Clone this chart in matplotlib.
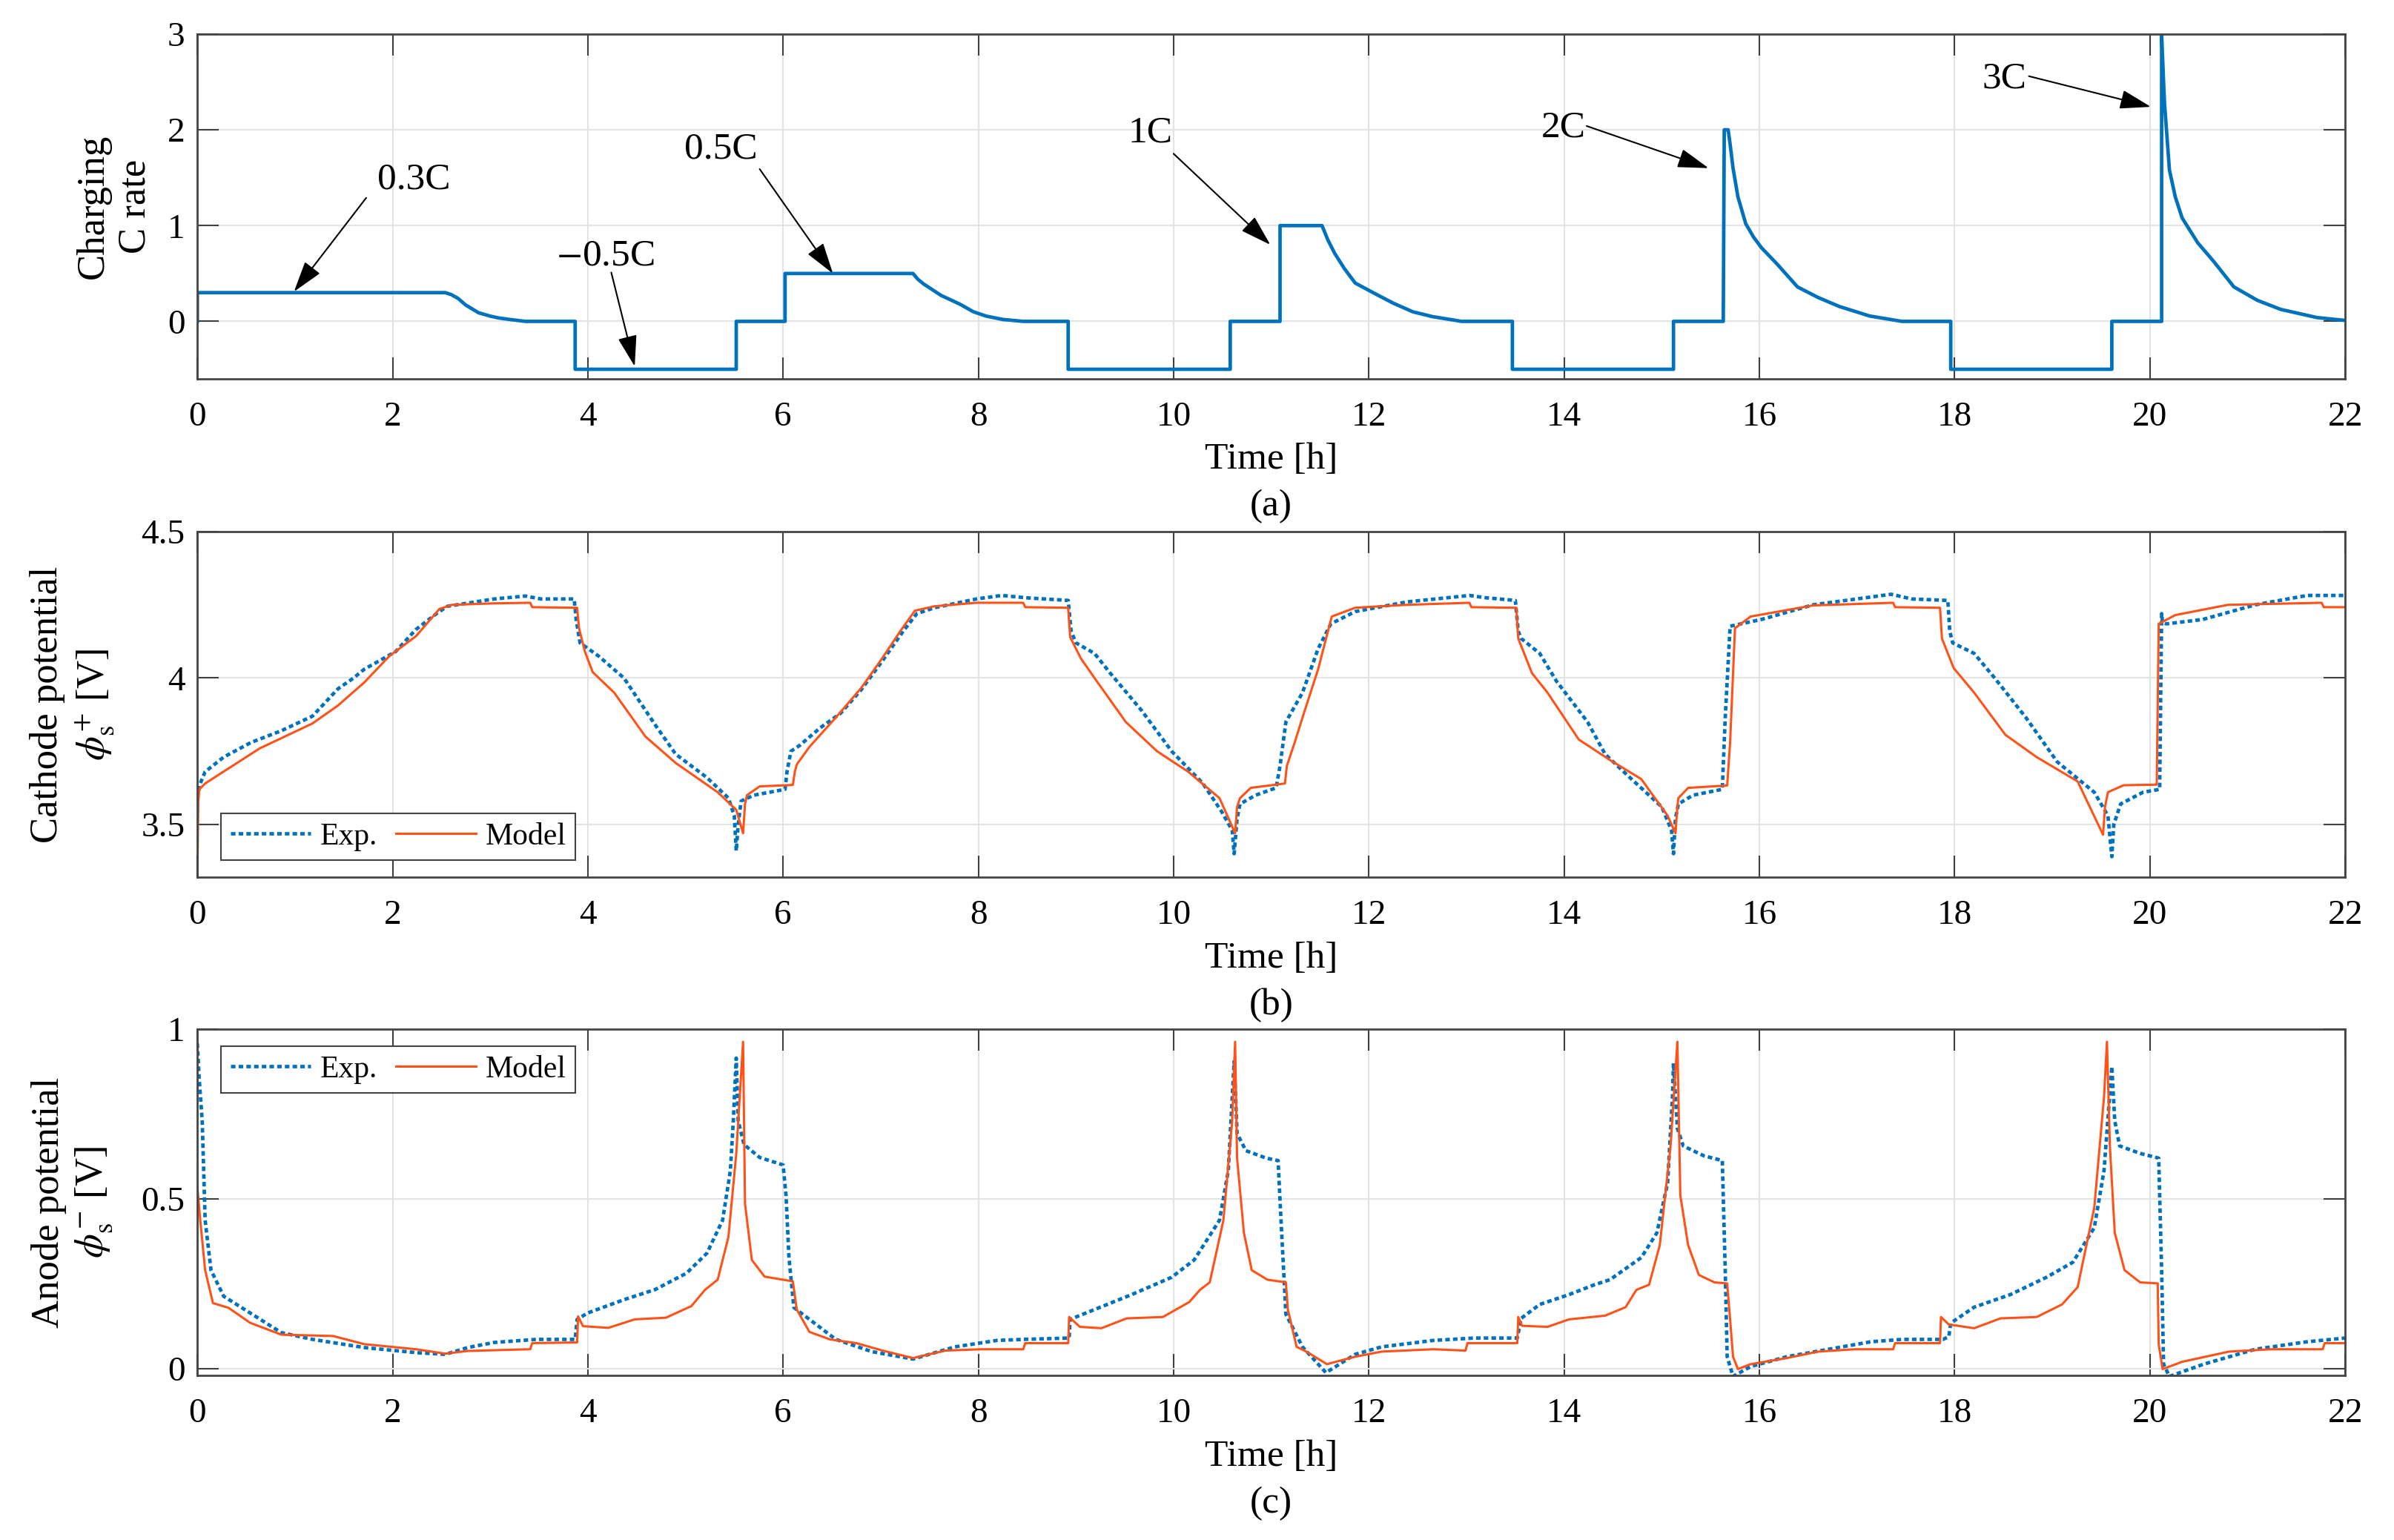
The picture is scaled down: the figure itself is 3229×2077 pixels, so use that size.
import matplotlib
matplotlib.use('Agg')
import matplotlib.pyplot as plt
from matplotlib.ticker import FuncFormatter

plt.rcParams['font.family'] = ['Liberation Serif', 'DejaVu Serif']
plt.rcParams['mathtext.fontset'] = 'stix'

# ---- (a) charging C rate ----
crate_t = [0, 0, 2.54, 2.60, 2.67, 2.75, 2.88, 3.0, 3.09, 3.2, 3.36, 3.87, 3.87, 5.52, 5.52, 6.02, 6.02,
           7.33, 7.38, 7.44, 7.62, 7.81, 7.95, 8.08, 8.25, 8.46, 8.92, 8.92, 10.58, 10.58, 11.09, 11.09,
           11.52, 11.58, 11.65, 11.75, 11.86, 12.08, 12.25, 12.45, 12.65, 12.95, 13.47, 13.47, 15.12,
           15.12, 15.63, 15.64, 15.68, 15.70, 15.73, 15.78, 15.86, 15.94, 16.02, 16.18, 16.39, 16.6,
           16.82, 17.13, 17.46, 17.96, 17.96, 19.61, 19.61, 20.12, 20.12, 20.14, 20.15, 20.2, 20.26,
           20.33, 20.49, 20.65, 20.86, 21.1, 21.34, 21.71, 22.0]
crate_v = [0, 0.3, 0.3, 0.28, 0.24, 0.17, 0.09, 0.055, 0.035, 0.02, 0.0, 0, -0.5, -0.5, 0, 0, 0.5,
           0.5, 0.44, 0.39, 0.27, 0.18, 0.10, 0.055, 0.02, 0, 0, -0.5, -0.5, 0, 0, 1.0,
           1.0, 0.85, 0.71, 0.55, 0.40, 0.28, 0.19, 0.10, 0.05, 0.0, 0, -0.5, -0.5,
           0, 0, 2.0, 2.0, 1.85, 1.60, 1.30, 1.02, 0.88, 0.77, 0.60, 0.36, 0.25,
           0.155, 0.056, 0.0, 0, -0.5, -0.5, 0, 0, 3.0, 2.5, 2.27, 1.58, 1.30,
           1.08, 0.82, 0.63, 0.36, 0.22, 0.125, 0.04, 0.01]

# annotation: label, text pos, arrow start, arrow tip  (h, C rate)
notes = [("0.3C", (2.22, 1.48), (1.73, 1.29), (0.99, 0.31)),
         ("$-$0.5C", (4.18, 0.68), (4.24, 0.51), (4.48, -0.47)),
         ("0.5C", (5.36, 1.80), (5.76, 1.59), (6.51, 0.50)),
         ("1C", (9.76, 1.97), (10.0, 1.75), (10.99, 0.80)),
         ("2C", (13.99, 2.02), (14.23, 2.04), (15.48, 1.60)),
         ("3C", (18.51, 2.53), (18.76, 2.56), (20.01, 2.24))]

# ---- (b) cathode potential ----
cath_exp_t = [0.0, 0.03, 0.08, 0.27, 0.55, 0.86, 1.18, 1.44, 1.60, 1.71, 2.03, 2.24, 2.45, 2.56, 3.04, 3.36,
              3.52, 3.86, 3.88, 3.92, 4.11, 4.37, 4.69, 4.90, 5.22, 5.44, 5.50, 5.52, 5.54, 5.57, 5.70, 6.02,
              6.04, 6.08, 6.17, 6.38, 6.59, 6.80, 7.02, 7.23, 7.37, 7.55, 7.98, 8.24, 8.49, 8.92, 8.95,
              9.00, 9.19, 9.35, 9.67, 9.98, 10.30, 10.49, 10.60, 10.62, 10.65, 10.68, 10.84, 11.05,
              11.09, 11.15, 11.32, 11.48, 11.61, 11.86, 12.39, 13.03, 13.20, 13.50, 13.53, 13.56, 13.75,
              13.92, 14.24, 14.42, 14.69, 15.0, 15.10, 15.12, 15.14, 15.17, 15.32, 15.62, 15.65, 15.70,
              16.02, 16.55, 17.35, 17.56, 17.93, 17.95, 17.98, 18.20, 18.41, 18.73, 19.05, 19.43, 19.57,
              19.61, 19.63, 19.70, 19.93, 20.10, 20.12, 20.13, 20.17, 20.54, 21.08, 21.61, 22.0]
cath_exp_v = [3.59, 3.64, 3.68, 3.73, 3.78, 3.82, 3.87, 3.963, 4.0, 4.03, 4.09, 4.166, 4.22, 4.245, 4.27, 4.28,
              4.27, 4.27, 4.20, 4.12, 4.075, 4.0, 3.84, 3.74, 3.66, 3.59, 3.53, 3.41, 3.50, 3.58, 3.60, 3.62,
              3.68, 3.75, 3.77, 3.83, 3.88, 3.96, 4.06, 4.16, 4.22, 4.24, 4.27, 4.282, 4.274, 4.265, 4.16,
              4.12, 4.084, 4.017, 3.89, 3.75, 3.64, 3.545, 3.48, 3.40, 3.52, 3.57, 3.60, 3.625,
              3.70, 3.85, 3.95, 4.10, 4.185, 4.227, 4.26, 4.282, 4.274, 4.265, 4.16, 4.135, 4.084,
              3.99, 3.85, 3.74, 3.655, 3.56, 3.48, 3.40, 3.52, 3.57, 3.60, 3.62, 3.865, 4.177,
              4.20, 4.25, 4.286, 4.27, 4.265, 4.16, 4.12, 4.084, 4.0, 3.865, 3.714, 3.61, 3.53,
              3.39, 3.50, 3.57, 3.61, 3.62, 4.22, 4.19, 4.185, 4.20, 4.25, 4.282, 4.282]

cath_mod_t = [0.0, 0.01, 0.02, 0.08, 0.22, 0.64, 1.18, 1.44, 1.71, 1.97, 2.24, 2.48, 2.61, 3.04, 3.41,
              3.43, 3.89, 3.91, 3.97, 4.05, 4.27, 4.59, 4.90, 5.33, 5.52, 5.59, 5.61, 5.63, 5.76, 6.10,
              6.12, 6.14, 6.27, 6.54, 6.80, 7.02, 7.20, 7.35, 7.55, 7.98, 8.46, 8.48, 8.92, 8.94, 9.05,
              9.19, 9.51, 9.83, 10.15, 10.47, 10.63, 10.65, 10.68, 10.79, 11.14, 11.16, 11.24, 11.32,
              11.48, 11.62, 11.86, 12.39, 13.03, 13.05, 13.51, 13.53, 13.67, 13.83, 14.15, 14.47, 14.79,
              15.06, 15.14, 15.16, 15.17, 15.27, 15.67, 15.70, 15.75, 15.91, 16.55, 17.37, 17.39, 17.85,
              17.87, 17.99, 18.20, 18.52, 18.84, 19.26, 19.52, 19.54, 19.57, 19.73, 20.07, 20.09, 20.26,
              20.80, 21.76, 21.78, 22.0]
cath_mod_v = [3.32, 3.58, 3.62, 3.64, 3.67, 3.76, 3.845, 3.906, 3.985, 4.076, 4.143, 4.236, 4.25, 4.255, 4.257,
              4.242, 4.24, 4.17, 4.09, 4.02, 3.95, 3.80, 3.71, 3.61, 3.55, 3.47, 3.57, 3.60, 3.63, 3.635,
              3.68, 3.705, 3.765, 3.865, 3.966, 4.07, 4.16, 4.23, 4.245, 4.257, 4.257, 4.242, 4.24, 4.14,
              4.067, 4.0, 3.85, 3.75, 3.68, 3.59, 3.47, 3.56, 3.59, 3.625, 3.64, 3.70, 3.78, 3.865,
              4.03, 4.21, 4.24, 4.25, 4.257, 4.242, 4.24, 4.135, 4.017, 3.95, 3.79, 3.72, 3.655,
              3.53, 3.47, 3.56, 3.59, 3.625, 3.633, 3.78, 4.17, 4.21, 4.248, 4.257, 4.242, 4.24,
              4.135, 4.034, 3.95, 3.806, 3.73, 3.647, 3.465, 3.56, 3.61, 3.634, 3.636, 4.185, 4.215,
              4.25, 4.257, 4.242, 4.242]

# ---- (c) anode potential ----
an_exp_t = [0.0, 0.02, 0.05, 0.08, 0.14, 0.27, 0.54, 0.86, 1.18, 1.71, 2.24, 2.54, 2.77, 3.04, 3.47,
            3.87, 3.89, 4.0, 4.37, 4.69, 5.01, 5.22, 5.38, 5.46, 5.49, 5.52, 5.54, 5.60, 5.76, 6.0,
            6.03, 6.06, 6.11, 6.27, 6.54, 6.91, 7.33, 7.76, 8.19, 8.46, 8.93, 8.94, 9.19, 9.57, 9.98,
            10.21, 10.47, 10.56, 10.62, 10.65, 10.74, 10.95, 11.07, 11.10, 11.15, 11.32, 11.56, 11.86,
            12.13, 12.66, 13.08, 13.52, 13.56, 13.75, 14.05, 14.31, 14.47, 14.79, 14.95, 15.06, 15.11,
            15.12, 15.16, 15.22, 15.43, 15.62, 15.65, 15.67, 15.73, 15.91, 16.28, 16.71, 17.14, 17.46,
            17.88, 17.94, 17.96, 18.20, 18.57, 18.94, 19.21, 19.43, 19.53, 19.61, 19.64, 19.69, 19.90,
            20.09, 20.12, 20.14, 20.20, 20.55, 21.08, 21.61, 22.0]
an_exp_v = [0.958, 0.85, 0.73, 0.437, 0.29, 0.213, 0.164, 0.106, 0.086, 0.062, 0.047, 0.042, 0.062, 0.077,
            0.086, 0.086, 0.145, 0.164, 0.203, 0.233, 0.281, 0.34, 0.437, 0.583, 0.73, 0.915, 0.73, 0.66,
            0.622, 0.60, 0.51, 0.327, 0.18, 0.145, 0.086, 0.05, 0.028, 0.064, 0.083, 0.086, 0.09, 0.145,
            0.174, 0.218, 0.269, 0.32, 0.437, 0.583, 0.905, 0.693, 0.642, 0.62, 0.613, 0.437, 0.16,
            0.064, -0.012, 0.042, 0.064, 0.083, 0.09, 0.09, 0.148, 0.189, 0.218, 0.247, 0.262, 0.327,
            0.40, 0.547, 0.803, 0.90, 0.708, 0.656, 0.627, 0.613, 0.29, 0.035, -0.023, 0.006, 0.035,
            0.057, 0.079, 0.086, 0.086, 0.094, 0.134, 0.181, 0.218, 0.269, 0.313, 0.415, 0.583, 0.89,
            0.73, 0.656, 0.634, 0.62, 0.29, 0.013, -0.023, 0.013, 0.057, 0.079, 0.09]

an_mod_t = [0.0, 0.03, 0.08, 0.16, 0.32, 0.54, 0.86, 1.39, 1.71, 2.24, 2.54, 2.77, 3.41, 3.43, 3.89, 3.90,
            3.95, 4.21, 4.48, 4.80, 5.06, 5.20, 5.33, 5.44, 5.52, 5.59, 5.61, 5.68, 5.81, 6.10, 6.14,
            6.27, 6.48, 6.75, 7.02, 7.33, 7.66, 8.03, 8.46, 8.48, 8.92, 8.93, 9.04, 9.26, 9.52, 9.89,
            10.16, 10.27, 10.37, 10.51, 10.60, 10.63, 10.65, 10.72, 10.80, 10.96, 11.15, 11.17, 11.26,
            11.36, 11.57, 11.86, 12.13, 12.66, 12.99, 13.01, 13.52, 13.53, 13.57, 13.83, 14.05, 14.42,
            14.63, 14.74, 14.87, 14.98, 15.09, 15.16, 15.19, 15.27, 15.38, 15.54, 15.67, 15.70, 15.73,
            15.78, 15.91, 16.28, 16.60, 16.98, 17.37, 17.39, 17.85, 17.86, 17.94, 18.20, 18.47, 18.84,
            19.10, 19.26, 19.43, 19.53, 19.56, 19.59, 19.64, 19.74, 19.90, 20.08, 20.09, 20.13, 20.33,
            20.81, 21.24, 21.77, 21.79, 22.0]
an_mod_v = [0.535, 0.437, 0.29, 0.193, 0.179, 0.135, 0.10, 0.096, 0.072, 0.057, 0.044, 0.052, 0.057, 0.075,
            0.077, 0.154, 0.125, 0.12, 0.145, 0.15, 0.184, 0.232, 0.262, 0.388, 0.632, 0.963, 0.486, 0.32,
            0.271, 0.257, 0.174, 0.108, 0.086, 0.075, 0.053, 0.031, 0.053, 0.057, 0.057, 0.075, 0.075,
            0.152, 0.123, 0.119, 0.148, 0.152, 0.196, 0.232, 0.254, 0.437, 0.73, 0.963, 0.62, 0.40, 0.29,
            0.262, 0.254, 0.174, 0.064, 0.05, 0.013, 0.035, 0.05, 0.057, 0.053, 0.075, 0.075, 0.152,
            0.126, 0.123, 0.145, 0.156, 0.181, 0.232, 0.247, 0.364, 0.656, 0.963, 0.51, 0.364, 0.276,
            0.254, 0.251, 0.145, 0.035, -0.0015, 0.013, 0.031, 0.05, 0.057, 0.057, 0.075, 0.075, 0.152,
            0.13, 0.119, 0.148, 0.152, 0.189, 0.24, 0.474, 0.80, 0.963, 0.656, 0.40, 0.29, 0.254, 0.251,
            0.072, -0.0015, 0.02, 0.05, 0.057, 0.057, 0.075, 0.075]

BLUE = '#0072BD'
RED = '#FF5219'
TICK_FS = 34
LAB_FS = 37

fig = plt.figure(figsize=(32.3, 20.77), dpi=100)
ax1 = fig.add_axes([0.0824, 0.7540, 0.8969, 0.2239])
ax2 = fig.add_axes([0.0824, 0.4304, 0.8969, 0.2244])
ax3 = fig.add_axes([0.0824, 0.1069, 0.8969, 0.2248])


def style(ax, ylim, yticks, ylab, ylab_x, tag):
    ax.set_xlim(0, 22)
    ax.set_ylim(*ylim)
    ax.set_xticks(range(0, 23, 2))
    ax.set_yticks(yticks)
    ax.yaxis.set_major_formatter(FuncFormatter(lambda v, p: '%g' % v))
    ax.grid(True, color='#e3e3e3', lw=1.5)
    ax.set_axisbelow(True)
    ax.tick_params(direction='in', length=21, width=1.5, color='#404040', top=True, right=True,
                   labelsize=TICK_FS)
    ax.tick_params(axis='x', pad=22)
    ax.tick_params(axis='y', pad=12)
    for s in ax.spines.values():
        s.set_color('#444444')
        s.set_linewidth(2)
    ax.set_xlabel('Time [h]', fontsize=LAB_FS)
    ax.xaxis.label.set_va('center')
    ax.xaxis.set_label_coords(0.5, -0.235)
    ax.set_ylabel(ylab, fontsize=LAB_FS + 1, linespacing=1.25)
    ax.yaxis.label.set_va('center')
    ax.yaxis.set_label_coords(ylab_x, 0.5)
    ax.text(0.5, -0.37, tag, transform=ax.transAxes, ha='center', va='center', fontsize=LAB_FS)


# (a)
ax1.plot(crate_t, crate_v, color=BLUE, lw=3.4)
for lab, tpos, start, tip in notes:
    ax1.text(tpos[0], tpos[1], lab, fontsize=LAB_FS, ha='center', va='center')
    ax1.annotate('', xy=tip, xytext=start,
                 arrowprops=dict(arrowstyle='-|>,head_length=1.3,head_width=0.4', color='k', lw=1.5,
                                 shrinkA=0, shrinkB=0, mutation_scale=20))
style(ax1, (-0.6, 3), [0, 1, 2, 3], 'Charging\nC rate', -0.0387, '(a)')

# (b)
ax2.plot(cath_exp_t, cath_exp_v, color=BLUE, lw=3.4, ls=(0, (1.3, 0.9)), label='Exp.')
ax2.plot(cath_mod_t, cath_mod_v, color=RED, lw=2.2, label='Model')
style(ax2, (3.32, 4.5), [3.5, 4, 4.5], 'Cathode potential\n$\\phi^{+}_{\\rm s}$ [V]', -0.058, '(b)')
ax2.legend(loc='lower left', bbox_to_anchor=(0.011, 0.049), borderaxespad=0, ncol=2, fontsize=30,
           handlelength=2.6, handletextpad=0.3, columnspacing=0.6, fancybox=False, edgecolor='#444444',
           framealpha=1, borderpad=0.3).get_frame().set_linewidth(1.5)

# (c)
ax3.plot(an_exp_t, an_exp_v, color=BLUE, lw=3.4, ls=(0, (1.3, 0.9)), label='Exp.')
ax3.plot(an_mod_t, an_mod_v, color=RED, lw=2.2, label='Model')
style(ax3, (-0.02, 1), [0, 0.5, 1], 'Anode potential\n$\\phi^{-}_{\\rm s}$ [V]', -0.058, '(c)')
ax3.legend(loc='upper left', bbox_to_anchor=(0.011, 0.951), borderaxespad=0, ncol=2, fontsize=30,
           handlelength=2.6, handletextpad=0.3, columnspacing=0.6, fancybox=False, edgecolor='#444444',
           framealpha=1, borderpad=0.3).get_frame().set_linewidth(1.5)

fig.savefig('out.png', dpi=100)
